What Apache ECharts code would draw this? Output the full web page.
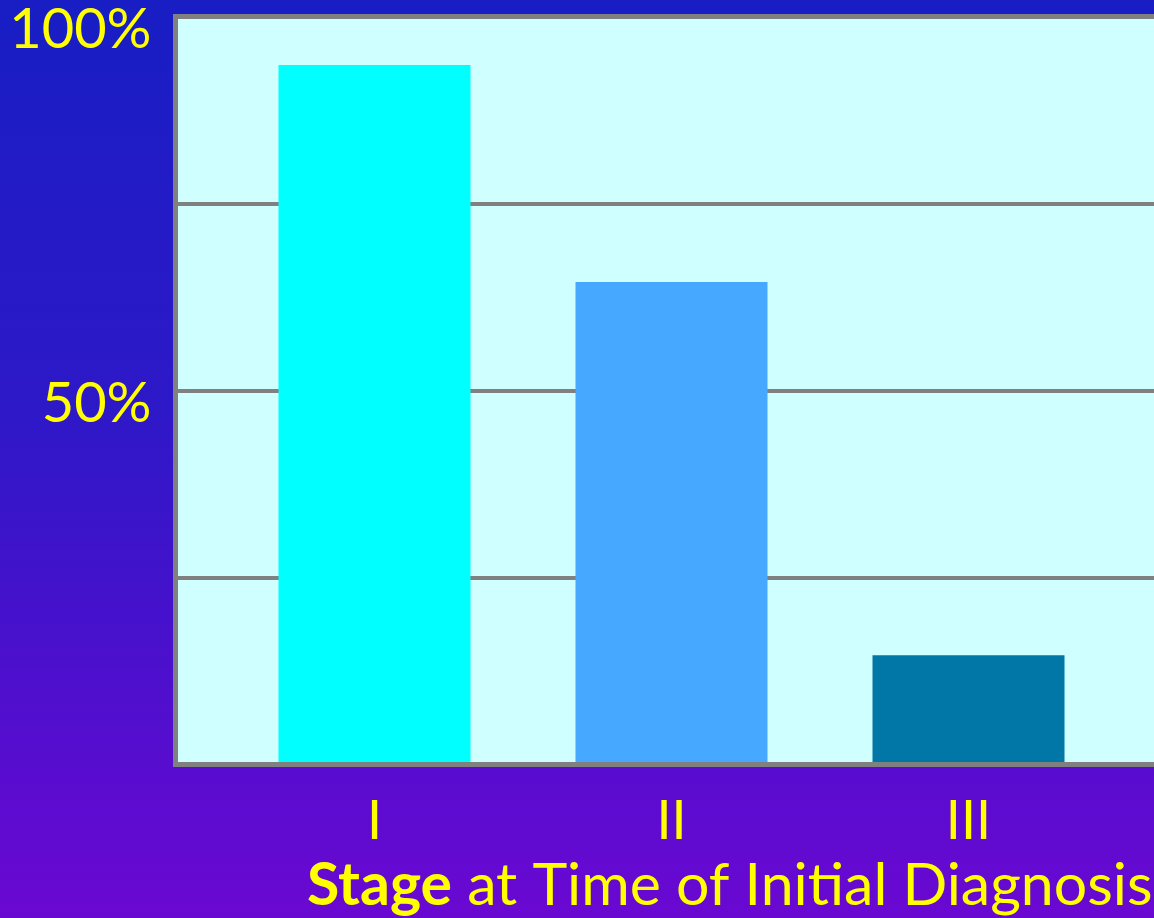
<!DOCTYPE html>
<html>
<head>
<meta charset="utf-8">
<script src="https://cdn.jsdelivr.net/npm/echarts@6/dist/echarts.min.js"></script>
<style>
  html, body { margin: 0; padding: 0; }
  #chart { width: 1154px; height: 918px; }
</style>
</head>
<body>
<div id="chart"></div>
<script>
// Share of patients by stage at time of initial diagnosis (%)
const stages = ['I', 'II', 'III'];
const shares = [93.5, 64.5, 14.6];
const barColors = ['#00ffff', '#46a8ff', '#0077a6'];
const yTickLabels = { 100: '100%', 50: '50%' };
const xTitle = 'at Time of Initial Diagnosis';
const xTitleBold = 'Stage';

const FONT = 'Lato';
const YELLOW = '#ffff00';
const GRID_GRAY = '#808080';

const chart = echarts.init(document.getElementById('chart'));

chart.setOption({
  animation: false,
  backgroundColor: {
    type: 'linear', x: 0, y: 0, x2: 0, y2: 1,
    colorStops: [
      { offset: 0, color: '#181ec4' },
      { offset: 0.45, color: '#2e18c8' },
      { offset: 1, color: '#6a08d2' }
    ]
  },
  title: {
    text: '{b|' + xTitleBold + '} ' + xTitle,
    left: 302,
    top: 851,
    textStyle: {
      color: YELLOW, fontFamily: FONT, fontSize: 59, fontWeight: 'normal',
      rich: {
        b: { color: YELLOW, fontFamily: FONT, fontSize: 59, fontWeight: 'bold' }
      }
    }
  },
  grid: [
    // plot background, frame and horizontal rules
    {
      left: 175.5, top: 16.5, right: -20, bottom: 153.5,
      outerBoundsMode: 'none', containLabel: false,
      show: true, backgroundColor: '#d0ffff',
      borderColor: GRID_GRAY, borderWidth: 5
    },
    // bars
    {
      left: 226, top: 16.5, right: 37, bottom: 153.5,
      outerBoundsMode: 'none', containLabel: false
    }
  ],
  xAxis: [
    { gridIndex: 0, type: 'value', min: 0, max: 1, show: false },
    {
      gridIndex: 1, type: 'category', data: stages, z: 5,
      axisLine: { show: true, lineStyle: { color: GRID_GRAY, width: 5 } },
      axisTick: { show: false },
      axisLabel: {
        color: YELLOW, fontFamily: FONT, fontSize: 54, margin: 30
      }
    }
  ],
  yAxis: [
    {
      gridIndex: 0, type: 'value', min: 0, max: 100, interval: 25,
      axisLine: { show: false }, axisTick: { show: false },
      splitLine: { show: true, lineStyle: { color: GRID_GRAY, width: 4 } },
      axisLabel: {
        margin: 24,
        formatter: v => yTickLabels[v] ? '{t|' + yTickLabels[v] + '}' : '',
        rich: {
          // labels sit slightly below their rule
          t: {
            color: YELLOW, fontFamily: FONT, fontSize: 56,
            padding: [26, 0, 0, 0]
          }
        }
      }
    },
    { gridIndex: 1, type: 'value', min: 0, max: 100, show: false }
  ],
  series: [
    {
      type: 'bar', xAxisIndex: 1, yAxisIndex: 1,
      barWidth: 192,
      data: shares.map((v, i) => ({ value: v, itemStyle: { color: barColors[i] } }))
    }
  ]
});
</script>
</body>
</html>
